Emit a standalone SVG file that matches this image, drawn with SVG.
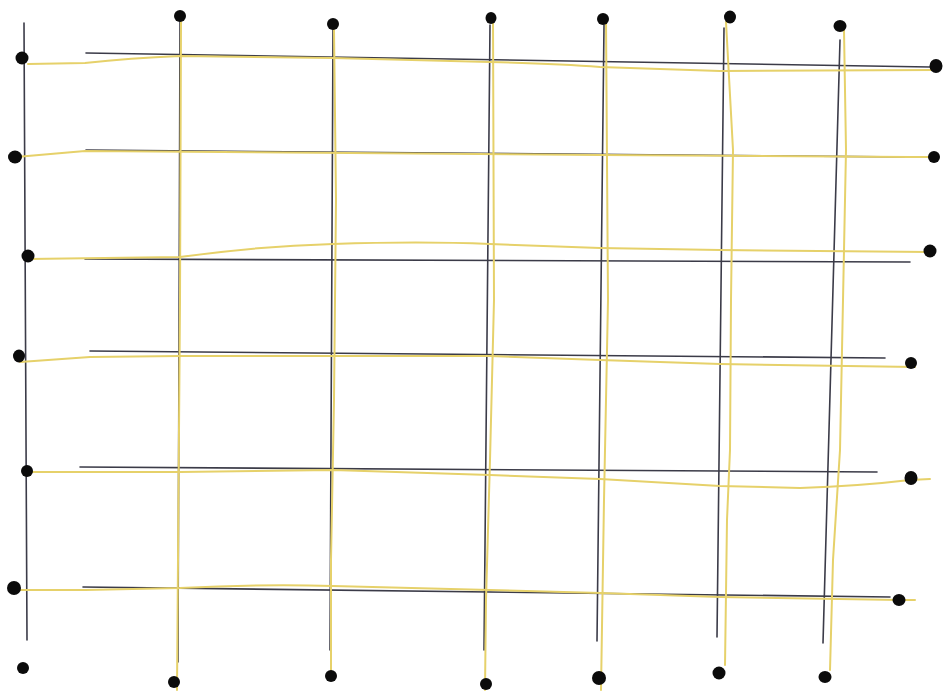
<svg xmlns="http://www.w3.org/2000/svg" width="943" height="694" viewBox="0 0 943 694">
<style>
.dk{fill:none;stroke:#3b3b48;stroke-width:1.6;stroke-linecap:round}
.yl{fill:none;stroke:#e6d16a;stroke-width:2;stroke-linecap:round;stroke-linejoin:round}
.dot{fill:#0b0b0b}
</style>
<rect width="943" height="694" fill="#ffffff"/>
<g id="connectors">
<g id="dark-lines">
<path class="dk" d="M86,53 Q500,58 930,67"/>
<path class="dk" d="M86,150 L910,157"/>
<path class="dk" d="M85,259 L910,262"/>
<path class="dk" d="M90,351 L885,358"/>
<path class="dk" d="M80,467 L877,472"/>
<path class="dk" d="M83,587 L890,597"/>
<path class="dk" d="M24,23 L27,640"/>
<path class="dk" d="M180,22 L178,662"/>
<path class="dk" d="M333,30 L330,650"/>
<path class="dk" d="M490,25 L484,650"/>
<path class="dk" d="M604,25 L597,641"/>
<path class="dk" d="M724,28 L717,637"/>
<path class="dk" d="M840,40 L823,643"/>
</g>
<g id="yellow-lines">
<path class="yl" d="M28,64 L85,63 Q130,58 180,56 L333,58 L490,62 Q560,64 600,67 L720,71 L936,70"/>
<path class="yl" d="M16,157 L85,151 L600,155 L910,157 L935,157"/>
<path class="yl" d="M28,259 L180,257 Q260,246 333,244 Q420,241 490,244 L600,248 L720,250 L930,252"/>
<path class="yl" d="M20,362 L90,357 L180,356 L490,356 L600,360 L720,364 L915,367"/>
<path class="yl" d="M28,472 L180,472 L333,470 L490,475 L600,479 L720,486 L800,488 Q860,486 910,480 L930,479"/>
<path class="yl" d="M15,590 L85,590 L180,588 Q260,584 333,586 L490,590 L600,593 L720,597 L900,600 L915,600"/>
<path class="yl" d="M181,22 L180,300 L177,690"/>
<path class="yl" d="M334,30 L336,200 L334,400 L331,560 L331,680"/>
<path class="yl" d="M493,20 L494,300 L490,460 L486,600 L485,690"/>
<path class="yl" d="M606,20 L608,300 L604,500 L601,690"/>
<path class="yl" d="M726,22 L733,150 L731,300 L730,450 L727,520 L725,665"/>
<path class="yl" d="M844,30 L846,150 L843,300 L840,450 L833,560 L830,670"/>
</g>
</g>
<g id="dots-top">
<ellipse id="t1" class="dot" cx="180" cy="16" rx="6" ry="6"/>
<ellipse id="t2" class="dot" cx="333" cy="24" rx="6" ry="6"/>
<ellipse id="t3" class="dot" cx="491" cy="18" rx="5.5" ry="6"/>
<ellipse id="t4" class="dot" cx="603" cy="19" rx="6" ry="6"/>
<ellipse id="t5" class="dot" cx="730" cy="17" rx="6" ry="6.5"/>
<ellipse id="t6" class="dot" cx="840" cy="26" rx="6.5" ry="6"/>
</g>
<g id="dots-left">
<ellipse id="l1" class="dot" cx="22" cy="58" rx="6.5" ry="6.5"/>
<ellipse id="l2" class="dot" cx="15" cy="157" rx="7" ry="6.5"/>
<ellipse id="l3" class="dot" cx="28" cy="256" rx="6.5" ry="6.5"/>
<ellipse id="l4" class="dot" cx="19" cy="356" rx="6" ry="6.5"/>
<ellipse id="l5" class="dot" cx="27" cy="471" rx="6" ry="6"/>
<ellipse id="l6" class="dot" cx="14" cy="588" rx="7" ry="7"/>
<ellipse id="l7" class="dot" cx="23" cy="668" rx="6" ry="6"/>
</g>
<g id="dots-right">
<ellipse id="r1" class="dot" cx="936" cy="66" rx="6.5" ry="7"/>
<ellipse id="r2" class="dot" cx="934" cy="157" rx="6" ry="6"/>
<ellipse id="r3" class="dot" cx="930" cy="251" rx="6.5" ry="6.5"/>
<ellipse id="r4" class="dot" cx="911" cy="363" rx="6" ry="6"/>
<ellipse id="r5" class="dot" cx="911" cy="478" rx="6.5" ry="7"/>
<ellipse id="r6" class="dot" cx="899" cy="600" rx="6.5" ry="6"/>
</g>
<g id="dots-bottom">
<ellipse id="b1" class="dot" cx="174" cy="682" rx="6" ry="6"/>
<ellipse id="b2" class="dot" cx="331" cy="676" rx="6" ry="6"/>
<ellipse id="b3" class="dot" cx="486" cy="684" rx="6" ry="6"/>
<ellipse id="b4" class="dot" cx="599" cy="678" rx="7" ry="7"/>
<ellipse id="b5" class="dot" cx="719" cy="673" rx="6.5" ry="6.5"/>
<ellipse id="b6" class="dot" cx="825" cy="677" rx="6.5" ry="6"/>
</g>
</svg>
